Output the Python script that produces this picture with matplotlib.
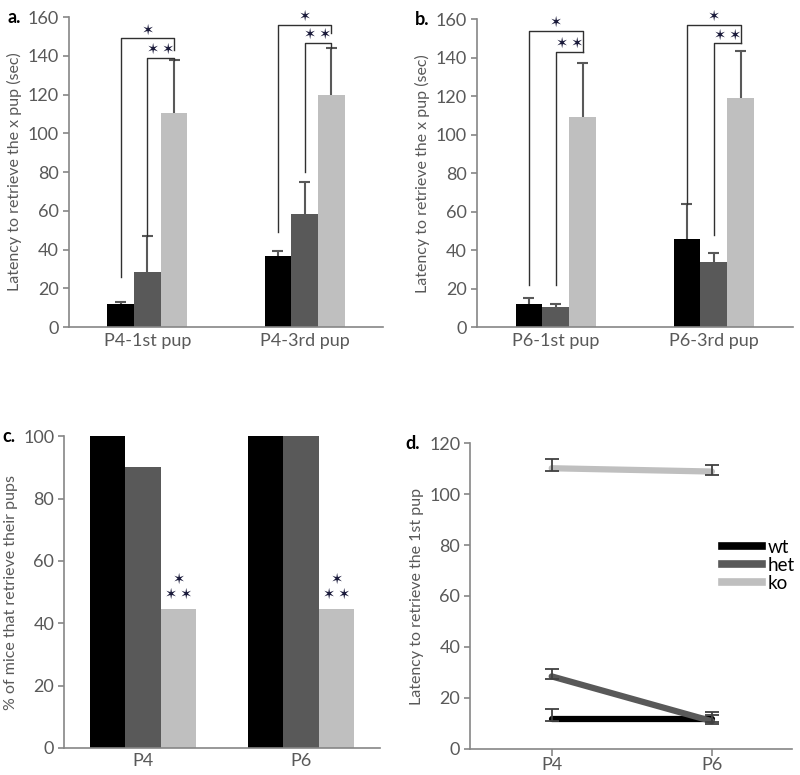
import numpy as np
import matplotlib.pyplot as plt

plt.rcParams['font.family'] = ['Lato', 'DejaVu Sans']

colors = ['#000000', '#595959', '#bfbfbf']
genotypes = ['wt', 'het', 'ko']

# panel a
cats_a = ['P4-1st pup', 'P4-3rd pup']
mean_a = {'wt': [12, 36.5], 'het': [28.5, 58.5], 'ko': [110.5, 120]}
err_a = {'wt': [1, 2.5], 'het': [18.5, 16.5], 'ko': [27.5, 24]}
# brackets: (group, from, to, top, left_end, right_end, label)
brk_a = [(0, 0, 2, 149, 26, 143, '*'), (0, 1, 2, 139, 47, 138, '**'),
         (1, 0, 2, 156, 49, 152, '*'), (1, 1, 2, 146.5, 80, 144, '**')]

# panel b
cats_b = ['P6-1st pup', 'P6-3rd pup']
mean_b = {'wt': [12, 46], 'het': [10.5, 34], 'ko': [109, 119]}
err_b = {'wt': [3, 18], 'het': [1.5, 4.5], 'ko': [28.5, 24.5]}
brk_b = [(0, 0, 2, 154, 22, 143, '*'), (0, 1, 2, 143, 22, 143, '**'),
         (1, 0, 2, 157, 64, 147.5, '*'), (1, 1, 2, 147.5, 48, 147.5, '**')]

# panel c
cats_c = ['P4', 'P6']
pct_c = {'wt': [100, 100], 'het': [90, 100], 'ko': [44.5, 44.5]}

# panel d
days_d = ['P4', 'P6']
lat_d = {'wt': [11.8, 11.8], 'het': [28.4, 10.8], 'ko': [110.2, 108.9]}
sem_lo_d = {'wt': [1, 1.5], 'het': [1, 1], 'ko': [1.2, 1.2]}
sem_hi_d = {'wt': [3.6, 2.5], 'het': [2.9, 2.5], 'ko': [3.6, 2.6]}

tick_col = '#595959'
spine_col = '#868686'


def style(ax):
    for s in ['top', 'right']:
        ax.spines[s].set_visible(False)
    for s in ['left', 'bottom']:
        ax.spines[s].set_color(spine_col)
        ax.spines[s].set_linewidth(1.2)
    ax.tick_params(axis='y', colors=spine_col, labelcolor=tick_col, labelsize=13,
                   length=4, width=1.2, pad=3)
    ax.tick_params(axis='x', colors=spine_col, labelcolor=tick_col, labelsize=13,
                   length=0, pad=4)


def stars(ax, x, y, s, va='bottom'):
    ax.text(x, y, s.replace('*', '\u2736').replace('\u2736\u2736', '\u2736\u2009\u2736'),
            ha='center', va=va, fontsize=10.5, color='#1a1a3a',
            family=['DejaVu Sans'], linespacing=1.0)


def bar_panel(ax, cats, means, errs, brackets, width, ylabel, letter):
    x = np.arange(len(cats))
    offs = [-width, 0, width]
    for g, c, o in zip(genotypes, colors, offs):
        ax.bar(x + o, means[g], width, color=c, zorder=2)
        if errs is not None:
            tops = np.array(means[g]) + np.array(errs[g])
            ax.vlines(x + o, means[g], tops, color='#595959', lw=1.5, zorder=3)
            ax.hlines(tops, x + o - 0.035, x + o + 0.035, color='#595959', lw=1.5, zorder=3)
    for grp, i, j, top, le, re, lab in brackets:
        xl = grp + offs[i]
        xr = grp + offs[j]
        ax.plot([xl, xl, xr, xr], [le, top, top, re], color='#303030', lw=1, zorder=4)
        stars(ax, (xl + xr) / 2, top + 0.5, lab)
    ax.set_xticks(x)
    ax.set_xticklabels(cats)
    ax.set_xlim(-0.5, 1.5)
    ax.set_ylabel(ylabel, color=tick_col, fontsize=11.5, labelpad=4)
    style(ax)
    ax.text(-0.195, 1.0, letter, transform=ax.transAxes, fontsize=13, fontweight='bold',
            ha='left', va='center')


fig = plt.figure(figsize=(8, 7.75), dpi=100)

ax_a = fig.add_axes([0.086, 0.578, 0.393, 0.4])
bar_panel(ax_a, cats_a, mean_a, err_a, brk_a, 0.17, 'Latency to retrieve the x pup (sec)', 'a.')
ax_a.set_ylim(0, 160)
ax_a.set_yticks(range(0, 161, 20))

ax_b = fig.add_axes([0.596, 0.578, 0.395, 0.397])
bar_panel(ax_b, cats_b, mean_b, err_b, brk_b, 0.17, 'Latency to retrieve the x pup (sec)', 'b.')
ax_b.set_ylim(0, 160)
ax_b.set_yticks(range(0, 161, 20))

ax_c = fig.add_axes([0.08, 0.035, 0.395, 0.402])
bar_panel(ax_c, cats_c, pct_c, None, [], 0.225, '% of mice that retrieve their pups', 'c.')
ax_c.set_ylim(0, 100)
ax_c.set_yticks(range(0, 101, 20))
for i in range(len(cats_c)):
    stars(ax_c, i + 0.225, pct_c['ko'][i] + 2.5, '*\n**')

ax_d = fig.add_axes([0.5875, 0.034, 0.4025, 0.394])
xd = np.arange(len(days_d))
for g, c in zip(genotypes, colors):
    ax_d.plot(xd, lat_d[g], color=c, lw=4.5, solid_capstyle='round', zorder=2)
    ax_d.errorbar(xd, lat_d[g], yerr=[sem_lo_d[g], sem_hi_d[g]], fmt='none', ecolor='#404040',
                  elinewidth=1.3, capsize=5, capthick=1.3, zorder=3)
ax_d.set_xlim(-0.51, 1.5)
ax_d.set_ylim(0, 120)
ax_d.set_yticks(range(0, 121, 20))
ax_d.set_xticks(xd)
ax_d.set_xticklabels(days_d)
ax_d.set_ylabel('Latency to retrieve the 1st pup', color=tick_col, fontsize=11.5, labelpad=4)
style(ax_d)
ax_d.tick_params(axis='x', length=5, width=1.2, pad=1)
ax_d.text(-0.2, 1.0, 'd.', transform=ax_d.transAxes, fontsize=13, fontweight='bold',
          ha='left', va='center')
handles = [plt.Line2D([], [], color=c, lw=5.5) for c in colors]
ax_d.legend(handles, genotypes, loc='center left', bbox_to_anchor=(0.76, 0.6), frameon=False,
            fontsize=13.5, handlelength=2.1, handletextpad=0.3, labelspacing=0.05,
            borderaxespad=0)

fig.savefig('out.png', dpi=100)
